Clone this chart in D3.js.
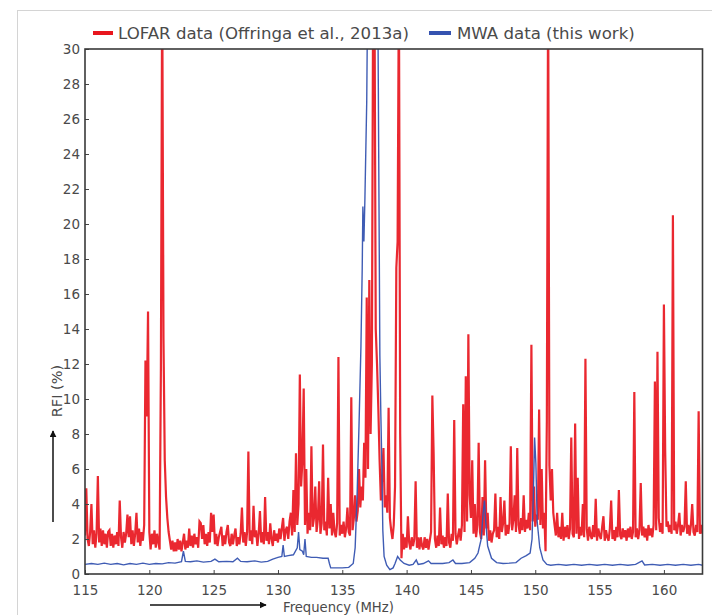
<!DOCTYPE html>
<html>
<head>
<meta charset="utf-8">
<script src="https://cdn.jsdelivr.net/npm/d3@7"></script>
<style>
  body { margin: 0; background: #fff; }
  svg { display: block; font-family: "DejaVu Sans", sans-serif; }
</style>
</head>
<body>
<svg id="chart" width="712" height="615"></svg>
<script>
// LOFAR flagged-RFI percentage, one value per 0.1 MHz channel starting at 115.0 MHz
const lofarStart = 115.0;
const lofarStep = 0.1;
const lofarValues = [
  2.2, 4.9, 2.0, 1.6, 2.4, 4.0, 1.7, 2.5, 1.5, 2.3,   // 115
  5.6, 1.8, 2.6, 1.6, 2.5, 1.7, 2.3, 1.5, 2.4, 2.5,   // 116
  1.6, 2.3, 1.5, 2.2, 1.7, 2.4, 1.6, 4.2, 2.1, 1.5,   // 117
  2.4, 1.8, 2.3, 3.4, 2.1, 3.3, 1.7, 2.5, 1.6, 2.3,   // 118
  3.5, 1.8, 2.6, 1.6, 2.4, 1.9, 2.8, 12.2, 9.0, 15.0, // 119
  2.4, 1.4, 2.3, 1.7, 2.5, 1.5, 2.3, 1.8, 1.4, 11.8,  // 120
  34, 13.5, 6.5, 4.4, 3.2, 2.4, 1.9, 1.4, 1.9, 1.3,   // 121
  1.8, 1.3, 2.0, 1.4, 1.9, 1.3, 1.8, 2.3, 1.4, 1.9,   // 122
  1.5, 2.6, 1.6, 2.2, 1.5, 2.3, 1.7, 2.1, 1.5, 3.0,   // 123
  2.9, 2.0, 2.8, 1.7, 2.3, 1.6, 2.4, 1.8, 3.5, 2.4,   // 124
  3.4, 1.7, 2.3, 1.6, 2.1, 2.4, 2.7, 1.6, 2.2, 1.7,   // 125
  2.4, 2.8, 1.8, 1.6, 2.3, 1.7, 2.2, 2.6, 1.6, 2.1,   // 126
  1.7, 2.3, 3.8, 1.8, 2.4, 1.6, 2.4, 7.0, 1.9, 2.5,   // 127
  1.7, 3.9, 2.1, 2.5, 1.6, 2.3, 3.6, 1.8, 2.4, 1.7,   // 128
  4.4, 1.9, 2.4, 1.7, 2.9, 2.0, 1.6, 2.5, 1.9, 2.3,   // 129
  1.8, 2.6, 2.0, 2.6, 3.2, 1.9, 2.5, 2.7, 2.0, 3.0,   // 130
  3.5, 2.2, 4.8, 2.4, 6.9, 2.8, 4.0, 11.4, 5.0, 6.5,  // 131
  10.6, 2.8, 6.0, 2.3, 3.5, 2.5, 7.3, 2.7, 3.2, 5.0,  // 132
  2.4, 3.1, 5.3, 2.3, 2.9, 7.4, 2.5, 3.0, 2.2, 5.5,   // 133
  2.6, 4.0, 2.2, 3.5, 2.4, 2.1, 2.9, 12.4, 2.2, 2.8,  // 134
  2.3, 3.0, 2.1, 2.6, 3.8, 2.4, 2.2, 10.1, 2.5, 3.2,  // 135
  4.5, 3.0, 3.6, 6.0, 3.8, 5.0, 4.2, 7.5, 5.5, 15.8,  // 136
  6.0, 16.8, 8.0, 12.0, 34, 34, 14.0, 12.0, 9.5, 6.5, // 137
  4.2, 5.5, 7.2, 3.8, 4.5, 3.5, 9.5, 3.2, 2.5, 2.0,   // 138
  2.8, 5.0, 17.5, 19.0, 34, 8.0, 0.9, 2.3, 1.4, 2.1,  // 139
  1.5, 3.3, 1.8, 1.4, 2.1, 1.6, 2.0, 5.3, 1.5, 2.1,   // 140
  1.4, 2.1, 1.6, 1.4, 2.1, 1.5, 2.0, 1.4, 1.9, 2.4,   // 141
  10.2, 6.9, 2.0, 1.5, 2.2, 1.6, 3.8, 1.7, 2.2, 1.5,  // 142
  2.1, 1.6, 4.6, 1.8, 1.5, 2.3, 1.9, 8.8, 2.3, 1.7,   // 143
  2.2, 2.6, 1.9, 2.8, 9.7, 2.4, 11.3, 3.0, 13.7, 4.5, // 144
  3.2, 6.5, 2.3, 4.0, 2.1, 2.8, 7.5, 2.4, 2.0, 4.4,   // 145
  2.2, 6.5, 2.6, 3.5, 1.9, 2.5, 1.8, 2.3, 2.5, 4.6,   // 146
  2.1, 2.7, 2.0, 4.4, 2.4, 2.9, 4.2, 2.2, 2.8, 2.3,   // 147
  2.9, 7.3, 2.5, 3.1, 4.5, 2.4, 7.2, 2.8, 2.3, 3.2,   // 148
  2.5, 4.5, 2.4, 3.1, 2.6, 3.5, 2.5, 13.1, 3.0, 5.0,  // 149
  2.7, 3.4, 3.1, 9.4, 2.8, 6.0, 2.6, 3.5, 1.3, 8.7,   // 150
  34, 6.2, 4.2, 6.0, 3.5, 2.8, 2.2, 3.5, 2.1, 2.7,    // 151
  2.0, 3.5, 1.9, 2.7, 2.1, 2.8, 2.0, 2.6, 7.8, 2.3,   // 152
  2.1, 8.6, 2.3, 5.5, 2.0, 2.7, 2.2, 4.0, 2.1, 12.3,  // 153
  2.6, 1.9, 2.7, 2.2, 2.0, 2.8, 2.1, 4.3, 1.9, 2.6,   // 154
  2.2, 2.0, 2.7, 3.3, 1.9, 2.5, 2.1, 1.9, 2.6, 4.2,   // 155
  2.0, 2.5, 1.9, 2.7, 2.1, 4.8, 2.2, 2.0, 2.6, 2.1,   // 156
  2.5, 1.9, 2.6, 2.1, 2.7, 2.0, 2.4, 10.4, 2.1, 2.6,  // 157
  2.0, 2.5, 5.2, 2.2, 2.7, 2.1, 2.6, 1.9, 2.8, 2.2,   // 158
  2.6, 2.1, 2.8, 11.0, 2.5, 12.7, 3.2, 2.4, 2.9, 2.3, // 159
  15.4, 7.0, 2.7, 3.0, 2.4, 2.8, 2.3, 20.5, 2.5, 3.0, // 160
  2.3, 2.8, 3.5, 2.2, 2.8, 2.4, 2.7, 5.3, 2.3, 2.8,   // 161
  2.2, 2.8, 4.0, 2.4, 2.2, 2.8, 2.4, 9.3, 2.3, 2.8,   // 162
  2.3                                                  // 163
];

// MWA flagged-RFI percentage as [frequency MHz, percent]
const mwaPoints = [
  [115.0, 0.55], [115.5, 0.6], [116.0, 0.55], [116.5, 0.62], [117.0, 0.55], [117.5, 0.6],
  [118.0, 0.52], [118.5, 0.6], [119.0, 0.55], [119.5, 0.62], [120.0, 0.55], [120.5, 0.6],
  [121.0, 0.58], [121.5, 0.65], [122.0, 0.62], [122.5, 0.7], [122.65, 1.3], [122.8, 0.72],
  [123.2, 0.7], [123.7, 0.75], [124.2, 0.68], [124.8, 0.72], [125.1, 0.85], [125.4, 0.7],
  [126.0, 0.72], [126.5, 0.7], [126.85, 0.9], [127.1, 0.72], [127.6, 0.7], [128.2, 0.75],
  [128.7, 0.68], [129.2, 0.72], [129.6, 0.85], [130.0, 0.95], [130.3, 1.0], [130.4, 1.65],
  [130.5, 1.0], [130.8, 1.05], [131.2, 1.1], [131.5, 1.5], [131.6, 2.4], [131.7, 1.4],
  [131.9, 1.3], [132.0, 1.1], [132.1, 2.0], [132.2, 1.0], [132.6, 0.95], [133.0, 0.95],
  [133.5, 0.9], [133.9, 0.9], [134.0, 0.6], [134.1, 0.35], [134.5, 0.35], [135.0, 0.35],
  [135.5, 0.38], [135.85, 0.6], [136.0, 1.5], [136.15, 4.5], [136.3, 8.5], [136.45, 13.0],
  [136.55, 17.5], [136.6, 21.0], [136.68, 19.0], [136.76, 21.5], [136.9, 27.0], [137.05, 40.0],
  [137.7, 40.0], [137.8, 28.0], [137.92, 12.5], [138.0, 9.0], [138.08, 6.0], [138.15, 2.5],
  [138.25, 1.0], [138.45, 0.5], [138.7, 0.25], [138.95, 0.35], [139.1, 0.6], [139.3, 1.0],
  [139.5, 0.8], [139.8, 0.6], [140.2, 0.5], [140.5, 0.55], [140.75, 0.8], [140.9, 0.55],
  [141.3, 0.6], [141.7, 0.75], [141.9, 0.6], [142.3, 0.6], [142.8, 0.6], [143.3, 0.65],
  [143.6, 0.8], [143.8, 0.6], [144.3, 0.6], [144.9, 0.65], [145.3, 0.9], [145.55, 1.2],
  [145.8, 2.0], [145.95, 3.5], [146.05, 4.2], [146.15, 3.0], [146.3, 1.6], [146.6, 0.9],
  [147.0, 0.65], [147.5, 0.6], [148.0, 0.62], [148.5, 0.65], [148.9, 0.9], [149.3, 1.05],
  [149.6, 1.2], [149.75, 2.0], [149.85, 4.5], [149.95, 7.8], [150.05, 6.3], [150.15, 3.0],
  [150.35, 1.5], [150.6, 0.8], [150.9, 0.55], [151.2, 0.5], [151.8, 0.55], [152.4, 0.5],
  [153.0, 0.55], [153.6, 0.5], [154.2, 0.55], [154.8, 0.5], [155.4, 0.55], [156.0, 0.5],
  [156.6, 0.55], [157.2, 0.5], [157.8, 0.55], [158.3, 0.75], [158.5, 0.52], [159.1, 0.55],
  [159.7, 0.5], [160.3, 0.55], [160.9, 0.5], [161.5, 0.55], [162.1, 0.5], [162.7, 0.55],
  [163.0, 0.5]
];

const xTicks = [115, 120, 125, 130, 135, 140, 145, 150, 155, 160];
const yTicks = [0, 2, 4, 6, 8, 10, 12, 14, 16, 18, 20, 22, 24, 26, 28, 30];
const seriesNames = ["LOFAR data (Offringa et al., 2013a)", "MWA data (this work)"];
const seriesColors = ["#e8161e", "#3553b0"];
const xTitle = "Frequency (MHz)";
const yTitle = "RFI (%)";

const svg = d3.select("#chart");
const plot = { left: 85, right: 702.5, top: 49, bottom: 574 };
const textColor = "#4a4a4a";

// faint outer border of the figure
svg.append("rect")
  .attr("x", 17.5).attr("y", 10.5)
  .attr("width", 720).attr("height", 620)
  .attr("fill", "none").attr("stroke", "#d4d4d4").attr("stroke-width", 1);

const x = d3.scaleLinear().domain([115, 163]).range([plot.left, plot.right]);
const y = d3.scaleLinear().domain([0, 30]).range([plot.bottom, plot.top]);

svg.append("defs").append("clipPath").attr("id", "plot-clip")
  .append("rect")
  .attr("x", plot.left).attr("y", plot.top)
  .attr("width", plot.right - plot.left).attr("height", plot.bottom - plot.top);

const lofarData = lofarValues.map((v, i) => [lofarStart + i * lofarStep, v]);

const line = d3.line().x(d => x(d[0])).y(d => y(d[1]));

const lines = svg.append("g").attr("clip-path", "url(#plot-clip)");
lines.append("path")
  .datum(lofarData)
  .attr("d", line)
  .attr("fill", "none")
  .attr("stroke", seriesColors[0])
  .attr("stroke-width", 2.2)
  .attr("stroke-opacity", 0.92);
lines.append("path")
  .datum(mwaPoints)
  .attr("d", line)
  .attr("fill", "none")
  .attr("stroke", seriesColors[1])
  .attr("stroke-width", 1.4)
  .attr("stroke-opacity", 0.95);

// axes with inward ticks
const xAxis = svg.append("g")
  .attr("transform", `translate(0,${plot.bottom})`)
  .call(d3.axisBottom(x).tickValues(xTicks).tickFormat(d3.format("d")).tickSize(-4).tickPadding(11));
const yAxis = svg.append("g")
  .attr("transform", `translate(${plot.left},0)`)
  .call(d3.axisLeft(y).tickValues(yTicks).tickFormat(d3.format("d")).tickSize(-4).tickPadding(5));
[xAxis, yAxis].forEach(g => {
  g.select(".domain").remove();
  g.selectAll(".tick line").attr("stroke", "#444").attr("stroke-width", 1);
  g.selectAll(".tick text")
    .attr("fill", textColor)
    .style("font-family", "'DejaVu Sans', sans-serif")
    .style("font-size", "13.5px");
});

// frame
svg.append("rect")
  .attr("x", plot.left).attr("y", plot.top)
  .attr("width", plot.right - plot.left).attr("height", plot.bottom - plot.top)
  .attr("fill", "none").attr("stroke", "#3a3a3a").attr("stroke-width", 1.6);

// legend above the axes
const legend = svg.append("g").style("font-size", "16.6px").attr("fill", textColor);
const legendItems = [
  { x1: 93, x2: 113, tx: 118 },
  { x1: 429, x2: 451, tx: 457 }
];
legendItems.forEach((it, i) => {
  legend.append("line")
    .attr("x1", it.x1).attr("x2", it.x2).attr("y1", 33).attr("y2", 33)
    .attr("stroke", seriesColors[i]).attr("stroke-width", 4);
  legend.append("text")
    .attr("x", it.tx).attr("y", 33).attr("dy", "0.36em")
    .text(seriesNames[i]);
});

// arrow marker
svg.select("defs").append("marker")
  .attr("id", "arrowhead")
  .attr("viewBox", "0 0 10 10")
  .attr("refX", 9).attr("refY", 5)
  .attr("markerWidth", 7).attr("markerHeight", 7)
  .attr("markerUnits", "userSpaceOnUse")
  .attr("orient", "auto")
  .append("path").attr("d", "M0,0 L10,5 L0,10 z").attr("fill", "#111");

// axis titles with direction arrows
svg.append("text")
  .attr("transform", "translate(57,391) rotate(-90)")
  .attr("text-anchor", "middle").attr("dy", "0.35em")
  .attr("fill", textColor).style("font-size", "14.5px")
  .text(yTitle);
svg.append("line")
  .attr("x1", 53).attr("x2", 53).attr("y1", 522).attr("y2", 431)
  .attr("stroke", "#111").attr("stroke-width", 1.5)
  .attr("marker-end", "url(#arrowhead)");

svg.append("text")
  .attr("x", 283).attr("y", 607).attr("dy", "0.35em")
  .attr("fill", textColor).style("font-size", "13.2px")
  .text(xTitle);
svg.append("line")
  .attr("x1", 150).attr("x2", 266).attr("y1", 605).attr("y2", 605)
  .attr("stroke", "#111").attr("stroke-width", 1.5)
  .attr("marker-end", "url(#arrowhead)");
</script>
</body>
</html>
